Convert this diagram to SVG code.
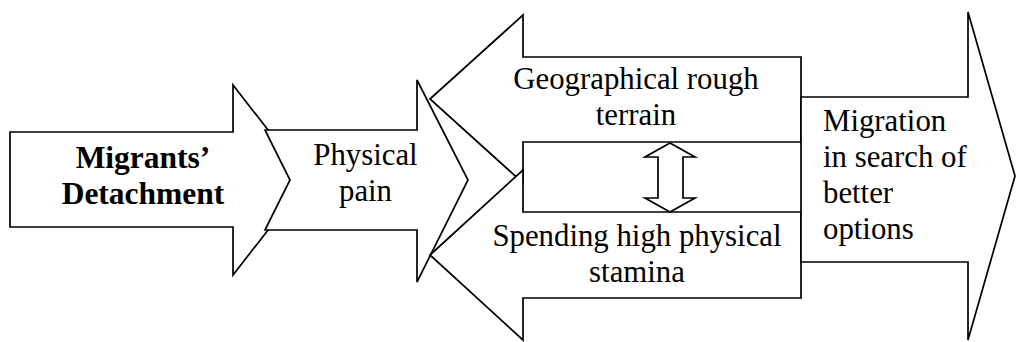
<svg xmlns="http://www.w3.org/2000/svg" width="1016" height="342" viewBox="0 0 1016 342">
<style>
.s{fill:#fff;stroke:#000;stroke-width:1.7;stroke-linejoin:miter}
text{font-family:'Liberation Serif','Times New Roman',serif;font-size:30.8px;fill:#000}
.b{font-weight:bold;font-size:31.5px}
.c{text-anchor:middle}
</style>
<rect width="1016" height="342" fill="#fff"/>
<g id="detachment">
<polygon class="s" points="10,132 233,132 233,85 307,180 233,275 233,227 10,227"/>
<text class="b c" x="143" y="168">Migrants’</text>
<text class="b c" x="143" y="204">Detachment</text>
</g>
<g id="pain">
<polygon class="s" points="265,130 417,130 417,80 468,180 417,282 417,230 265,230 290,180"/>
<text class="c" x="365.5" y="165">Physical</text>
<text class="c" x="365.5" y="201">pain</text>
</g>
<g id="terrain">
<polygon class="s" points="430,99 523,15 523,57 801,57 801,142 523,142 523,183"/>
<text class="c" x="636" y="89">Geographical rough</text>
<text class="c" x="636" y="125">terrain</text>
</g>
<g id="stamina">
<polygon class="s" points="430,255 523,170 523,212 801,212 801,298 523,298 523,340"/>
<text class="c" x="637" y="246">Spending high physical</text>
<text class="c" x="637" y="282">stamina</text>
</g>
<g id="migration">
<polygon class="s" points="801,97 968,97 968,12 1015,176 968,340 968,262 801,262"/>
<text x="823" y="131">Migration</text>
<text x="823" y="167">in search of</text>
<text x="823" y="203">better</text>
<text x="823" y="239">options</text>
</g>
<g id="connectors">
<polygon class="s" points="670,143 695,157 683,157 683,198 695,198 670,212 645,198 658,198 658,157 645,157"/>
</g>
</svg>
